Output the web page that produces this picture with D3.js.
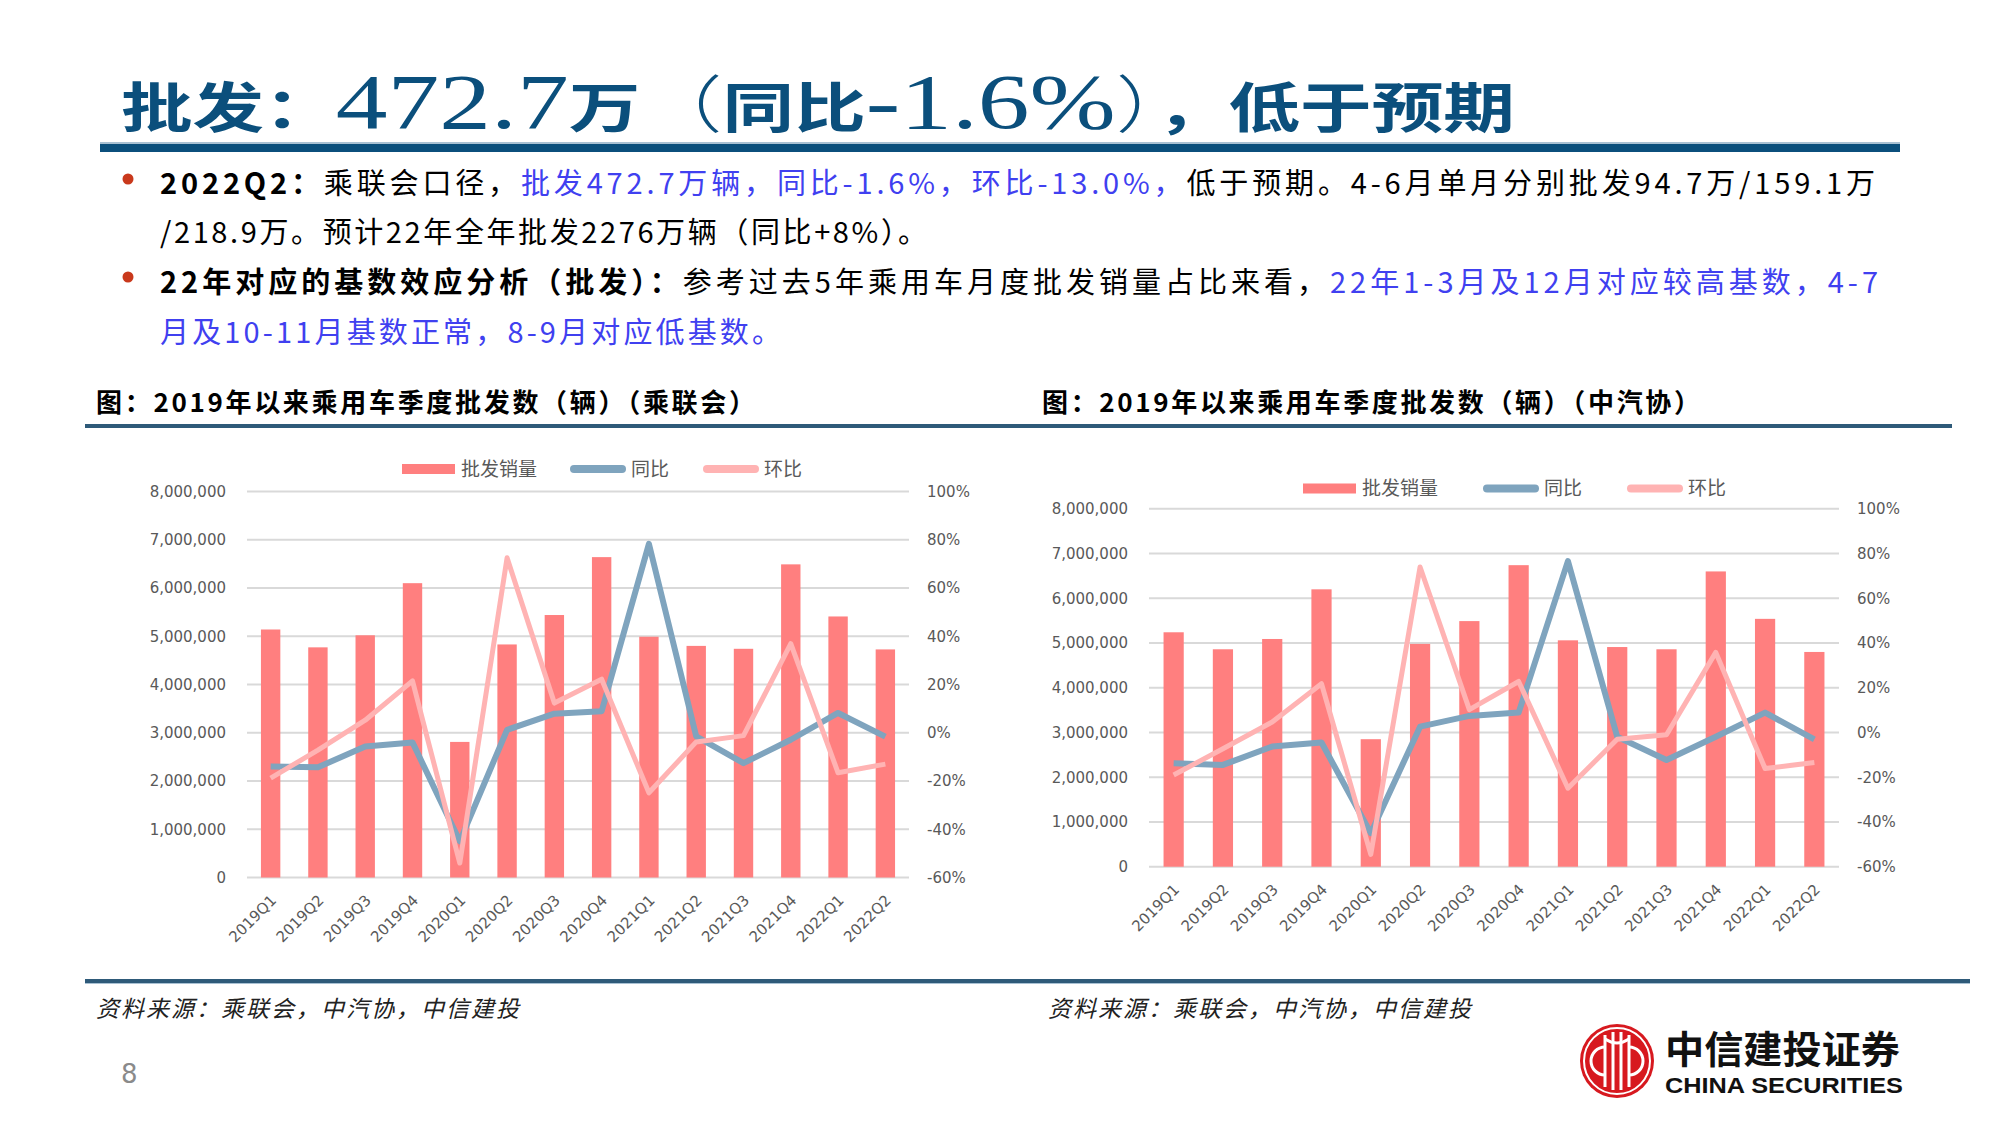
<!DOCTYPE html>
<html><head><meta charset="utf-8">
<script src="https://cdn.jsdelivr.net/npm/d3@7"></script>
<style>body{margin:0;background:#fff}svg{display:block}</style>
</head><body><svg id="c" width="2000" height="1125"></svg>
<script>
const categories = ["2019Q1","2019Q2","2019Q3","2019Q4","2020Q1","2020Q2","2020Q3","2020Q4","2021Q1","2021Q2","2021Q3","2021Q4","2022Q1","2022Q2"];
// 乘联会
const cpcaSales = [5140000,4770000,5020000,6100000,2810000,4830000,5440000,6640000,4990000,4800000,4740000,6490000,5410000,4727000];
const cpcaYoY = [-14.0,-14.3,-5.7,-4.0,-45.0,1.2,7.9,8.9,78.3,-1.5,-12.6,-2.9,8.2,-1.6];
const cpcaQoQ = [-18.8,-7.2,5.2,21.5,-54.0,72.5,12.3,22.2,-24.9,-3.8,-1.2,36.9,-16.6,-13.0];
// 中汽协
const caamSales = [5240000,4860000,5090000,6200000,2850000,4980000,5490000,6740000,5060000,4910000,4860000,6600000,5540000,4800000];
const caamYoY = [-13.8,-14.5,-6.3,-4.5,-45.0,2.6,7.4,8.9,76.6,-1.9,-12.3,-1.9,8.9,-3.1];
const caamQoQ = [-19.0,-7.3,4.7,21.8,-54.5,74.0,10.2,22.8,-24.9,-3.0,-1.0,35.8,-16.1,-13.4];
const leftTicks = [0,1000000,2000000,3000000,4000000,5000000,6000000,7000000,8000000];
const rightTicks = [-60,-40,-20,0,20,40,60,80,100];
const legendNames = ["批发销量","同比","环比"];

const COL = {bar:"#FF7F7F", yoy:"#7FA4BE", qoq:"#FFB3B3", grid:"#D9D9D9", axis:"#595959", blue:"#4040F0", navy:"#0B4F7C"};
const CJK = "'Noto Sans CJK SC','Noto Sans',sans-serif";
const svg = d3.select("#c");
svg.append("rect").attr("width",2000).attr("height",1125).attr("fill","#fff");

// ---- Title ----
const title = svg.append("text").attr("x",121).attr("y",128)
  .attr("textLength",1394).attr("lengthAdjust","spacingAndGlyphs")
  .attr("fill",COL.navy).attr("font-family",CJK).attr("font-size",54);
[["批发：","b"],["472.7","s"],["万","b"],["（","n"],["同比","b"],["-1.6%","s"],["）","n"],["，","b"],["低于预期","b"]]
.forEach(([t,k])=>{
  const ts = title.append("tspan").text(t);
  if(k==="b") ts.attr("font-weight",700);
  if(k==="n") ts.attr("font-weight",300).attr("font-size",62);
  if(k==="s") ts.attr("font-family","'Liberation Serif','DejaVu Serif',serif").attr("font-size",78).attr("font-weight",400);
});
svg.append("rect").attr("x",100).attr("y",142).attr("width",1800).attr("height",2).attr("fill","#A9C1D3");
svg.append("rect").attr("x",100).attr("y",144).attr("width",1800).attr("height",8).attr("fill",COL.navy);

// ---- Bullets ----
const bulletLines = [
  {y:194, len:1715, segs:[["2022Q2：","bold"],["乘联会口径，","k"],["批发472.7万辆，同比-1.6%，环比-13.0%，","blue"],["低于预期。4-6月单月分别批发94.7万/159.1万","k"]]},
  {y:243, len:767, segs:[["/218.9万。预计22年全年批发2276万辆（同比+8%）。","k"]]},
  {y:293, len:1718, segs:[["22年对应的基数效应分析（批发）：","bold"],["参考过去5年乘用车月度批发销量占比来看，","k"],["22年1-3月及12月对应较高基数，4-7","blue"]]},
  {y:343, len:621, segs:[["月及10-11月基数正常，8-9月对应低基数。","blue"]]}
];
bulletLines.forEach(l=>{
  const t = svg.append("text").attr("x",160).attr("y",l.y).attr("font-family",CJK).attr("font-size",29)
    .attr("textLength",l.len).attr("lengthAdjust","spacing");
  l.segs.forEach(([s,k])=>{
    const ts=t.append("tspan").text(s).attr("fill", k==="blue"?COL.blue:"#000");
    if(k==="bold") ts.attr("font-weight",700);
  });
});
[179,277].forEach(y=>svg.append("circle").attr("cx",128).attr("cy",y).attr("r",5.5).attr("fill","#C9391C"));

// ---- Chart titles & rules ----
[[96,659,"图：2019年以来乘用车季度批发数（辆）（乘联会）"],[1042,658,"图：2019年以来乘用车季度批发数（辆）（中汽协）"]].forEach(([x,len,s])=>{
  svg.append("text").attr("x",x).attr("y",412).attr("font-family",CJK).attr("font-size",26).attr("font-weight",700)
    .attr("textLength",len).attr("lengthAdjust","spacing").attr("fill","#000").text(s);
});
svg.append("rect").attr("x",85).attr("y",424).attr("width",1867).attr("height",4).attr("fill","#2E5A79");
svg.append("rect").attr("x",85).attr("y",979).attr("width",1885).attr("height",4).attr("fill","#2E5A79");
svg.append("rect").attr("x",85).attr("y",983).attr("width",1885).attr("height",1).attr("fill","#A9C1D3");

// ---- Charts ----
function drawChart(o){
  const g = svg.append("g");
  const x = d3.scaleBand().domain(categories).range([o.x0,o.x1]).paddingInner(0.59).paddingOuter(0.295);
  const y = d3.scaleLinear().domain([0,8000000]).range([o.yb,o.yt]);
  const y2 = d3.scaleLinear().domain([-60,100]).range([o.yb,o.yt]);
  const cx = d => x(d)+x.bandwidth()/2;
  // grid
  g.append("g").selectAll("line").data(leftTicks).join("line")
    .attr("x1",o.x0).attr("x2",o.x1).attr("y1",d=>y(d)).attr("y2",d=>y(d))
    .attr("stroke",COL.grid).attr("stroke-width",2);
  // left axis labels
  const axL = g.append("g").attr("transform",`translate(${o.x0-21},0)`)
    .call(d3.axisLeft(y).tickValues(leftTicks).tickFormat(d3.format(",")).tickSize(0).tickPadding(0));
  axL.select(".domain").remove();
  axL.selectAll("text").attr("font-family","'DejaVu Sans',sans-serif").attr("font-size",15).attr("fill",COL.axis);
  const axR = g.append("g").attr("transform",`translate(${o.x1+18},0)`)
    .call(d3.axisRight(y2).tickValues(rightTicks).tickFormat(d=>d+"%").tickSize(0).tickPadding(0));
  axR.select(".domain").remove();
  axR.selectAll("text").attr("font-family","'DejaVu Sans',sans-serif").attr("font-size",15).attr("fill",COL.axis);
  // bars
  g.append("g").selectAll("rect").data(categories).join("rect")
    .attr("x",d=>x(d)).attr("width",x.bandwidth())
    .attr("y",(d,i)=>y(o.sales[i])).attr("height",(d,i)=>y(0)-y(o.sales[i]))
    .attr("fill",COL.bar);
  // lines
  const line = vals => d3.line().x((d,i)=>cx(categories[i])).y(d=>y2(d))(vals);
  g.append("path").attr("d",line(o.yoy)).attr("fill","none").attr("stroke",COL.yoy).attr("stroke-width",6).attr("stroke-linejoin","round");
  g.append("path").attr("d",line(o.qoq)).attr("fill","none").attr("stroke",COL.qoq).attr("stroke-width",5).attr("stroke-linejoin","round");
  // x labels
  g.append("g").selectAll("text").data(categories).join("text")
    .attr("transform",d=>`translate(${cx(d)+3},${o.yb+20}) rotate(-45)`)
    .attr("text-anchor","end").attr("dy","0.35em")
    .attr("font-family","'DejaVu Sans',sans-serif").attr("font-size",15).attr("fill",COL.axis).text(d=>d);
  // legend
  const L = o.leg, lg = g.append("g").attr("font-family",CJK).attr("font-size",19).attr("fill",COL.axis);
  lg.append("rect").attr("x",L.x[0]).attr("y",L.y-5).attr("width",53).attr("height",10).attr("fill",COL.bar);
  lg.append("line").attr("x1",L.x[1]+4).attr("x2",L.x[1]+52).attr("y1",L.y).attr("y2",L.y).attr("stroke",COL.yoy).attr("stroke-width",8).attr("stroke-linecap","round");
  lg.append("line").attr("x1",L.x[2]+4).attr("x2",L.x[2]+52).attr("y1",L.y).attr("y2",L.y).attr("stroke",COL.qoq).attr("stroke-width",8).attr("stroke-linecap","round");
  legendNames.forEach((n,i)=>lg.append("text").attr("x",L.x[i]+(i===0?59:61)).attr("y",L.y).attr("dy","0.35em").text(n));
}
drawChart({x0:247,x1:909,yb:877.5,yt:491.5,sales:cpcaSales,yoy:cpcaYoY,qoq:cpcaQoQ,leg:{y:469,x:[402,570,703]}});
drawChart({x0:1149,x1:1839,yb:866.7,yt:508.8,sales:caamSales,yoy:caamYoY,qoq:caamQoQ,leg:{y:488.5,x:[1303,1483,1627]}});

// ---- Sources, page number ----
[96,1048].forEach(x=>svg.append("text").attr("x",x).attr("y",1017).attr("font-family",CJK).attr("font-size",23)
  .attr("font-style","italic").attr("fill","#222").attr("textLength",423).attr("lengthAdjust","spacing").text("资料来源：乘联会，中汽协，中信建投"));
svg.append("text").attr("x",121).attr("y",1083).attr("font-family","'DejaVu Sans',sans-serif").attr("font-size",26).attr("fill","#8A8A8A").text("8");

// ---- Logo ----
const lo = svg.append("g").attr("transform","translate(1617,1061)");
lo.append("circle").attr("r",37).attr("fill","#D7191F");
lo.append("circle").attr("r",33).attr("fill","none").attr("stroke","#fff").attr("stroke-width",2);
lo.append("circle").attr("r",30).attr("fill","#D7191F");
const w = lo.append("g").attr("fill","none").attr("stroke","#fff").attr("stroke-width",3);
w.append("path").attr("d","M-12,-26 L-12,26 M12,-26 L12,26 M-4,-29 L-4,29 M4,-29 L4,29");
w.append("path").attr("d","M-12,-14 A14,14 0 0 0 -26,0 A14,14 0 0 0 -12,14");
w.append("path").attr("d","M12,-14 A14,14 0 0 1 26,0 A14,14 0 0 1 12,14");
w.append("path").attr("d","M-12,-22 Q0,-14 12,-22");
svg.append("text").attr("x",1665).attr("y",1063).attr("font-family",CJK).attr("font-weight",700).attr("font-size",38)
  .attr("textLength",235).attr("lengthAdjust","spacingAndGlyphs").attr("fill","#111").text("中信建投证券");
svg.append("text").attr("x",1665).attr("y",1093).attr("font-family","'Liberation Sans',Arial,sans-serif").attr("font-weight",700).attr("font-size",22)
  .attr("textLength",238).attr("lengthAdjust","spacingAndGlyphs").attr("fill","#111").text("CHINA SECURITIES");
</script></body></html>
